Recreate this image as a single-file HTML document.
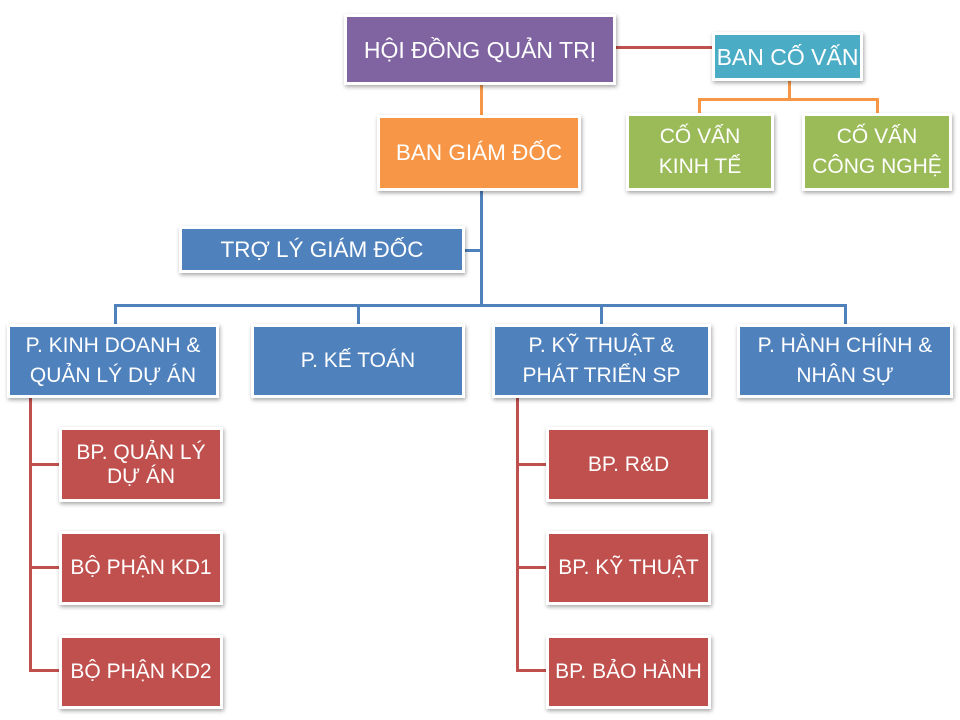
<!DOCTYPE html>
<html><head><meta charset="utf-8"><style>
body{margin:0;width:960px;height:720px;background:#fff;position:relative;overflow:hidden;font-family:"Liberation Sans",sans-serif;}
.b{position:absolute;box-sizing:border-box;border:3px solid #fff;box-shadow:1px 2px 4px rgba(0,0,0,.35);color:#fff;display:flex;align-items:center;justify-content:center;text-align:center;font-size:21px;line-height:30px;white-space:nowrap;}
.l{position:absolute;}
</style></head><body>
<div class="l" style="left:614px;top:46px;width:100px;height:3px;background:#c0504d"></div>
<div class="l" style="left:480px;top:84px;width:3px;height:34px;background:#f79646"></div>
<div class="l" style="left:788px;top:80px;width:3px;height:20px;background:#f79646"></div>
<div class="l" style="left:698px;top:98px;width:181px;height:3px;background:#f79646"></div>
<div class="l" style="left:698px;top:98px;width:3px;height:17px;background:#f79646"></div>
<div class="l" style="left:876px;top:98px;width:3px;height:17px;background:#f79646"></div>
<div class="l" style="left:480px;top:190px;width:3px;height:116px;background:#4f81bd"></div>
<div class="l" style="left:462px;top:249px;width:20px;height:3px;background:#4f81bd"></div>
<div class="l" style="left:114px;top:304px;width:733px;height:3px;background:#4f81bd"></div>
<div class="l" style="left:114px;top:304px;width:3px;height:22px;background:#4f81bd"></div>
<div class="l" style="left:357px;top:304px;width:3px;height:22px;background:#4f81bd"></div>
<div class="l" style="left:600px;top:304px;width:3px;height:22px;background:#4f81bd"></div>
<div class="l" style="left:844px;top:304px;width:3px;height:22px;background:#4f81bd"></div>
<div class="l" style="left:29px;top:397px;width:3px;height:274px;background:#c0504d"></div>
<div class="l" style="left:29px;top:463px;width:33px;height:3px;background:#c0504d"></div>
<div class="l" style="left:29px;top:566px;width:33px;height:3px;background:#c0504d"></div>
<div class="l" style="left:29px;top:669px;width:33px;height:3px;background:#c0504d"></div>
<div class="l" style="left:516px;top:397px;width:3px;height:274px;background:#c0504d"></div>
<div class="l" style="left:516px;top:463px;width:33px;height:3px;background:#c0504d"></div>
<div class="l" style="left:516px;top:566px;width:33px;height:3px;background:#c0504d"></div>
<div class="l" style="left:516px;top:669px;width:33px;height:3px;background:#c0504d"></div>

<div class="b" style="left:344px;top:14px;width:272px;height:71px;background:#8064a2;font-size:23px">HỘI ĐỒNG QUẢN TRỊ</div>
<div class="b" style="left:712px;top:32px;width:151px;height:49px;background:#4bacc6;font-size:23px">BAN CỐ VẤN</div>
<div class="b" style="left:377px;top:115px;width:204px;height:76px;background:#f79646;font-size:22.5px">BAN GIÁM ĐỐC</div>
<div class="b" style="left:626px;top:113px;width:148px;height:78px;background:#9bbb59">CỐ VẤN<br>KINH TẾ</div>
<div class="b" style="left:802px;top:113px;width:150px;height:78px;background:#9bbb59">CỐ VẤN<br>CÔNG NGHỆ</div>
<div class="b" style="left:179px;top:226px;width:286px;height:47px;background:#4f81bd;font-size:22.5px">TRỢ LÝ GIÁM ĐỐC</div>
<div class="b" style="left:7px;top:324px;width:212px;height:74px;background:#4f81bd">P. KINH DOANH &amp;<br>QUẢN LÝ DỰ ÁN</div>
<div class="b" style="left:251px;top:324px;width:214px;height:74px;background:#4f81bd">P. KẾ TOÁN</div>
<div class="b" style="left:492px;top:324px;width:219px;height:74px;background:#4f81bd">P. KỸ THUẬT &amp;<br>PHÁT TRIỂN SP</div>
<div class="b" style="left:737px;top:324px;width:216px;height:74px;background:#4f81bd">P. HÀNH CHÍNH &amp;<br>NHÂN SỰ</div>
<div class="b" style="left:59px;top:427px;width:164px;height:75px;background:#c0504d;line-height:24px">BP. QUẢN LÝ<br>DỰ ÁN</div>
<div class="b" style="left:59px;top:531px;width:164px;height:74px;background:#c0504d">BỘ PHẬN KD1</div>
<div class="b" style="left:59px;top:635px;width:164px;height:74px;background:#c0504d">BỘ PHẬN KD2</div>
<div class="b" style="left:546px;top:427px;width:165px;height:75px;background:#c0504d">BP. R&amp;D</div>
<div class="b" style="left:546px;top:531px;width:165px;height:74px;background:#c0504d">BP. KỸ THUẬT</div>
<div class="b" style="left:546px;top:635px;width:165px;height:74px;background:#c0504d">BP. BẢO HÀNH</div>
</body></html>
